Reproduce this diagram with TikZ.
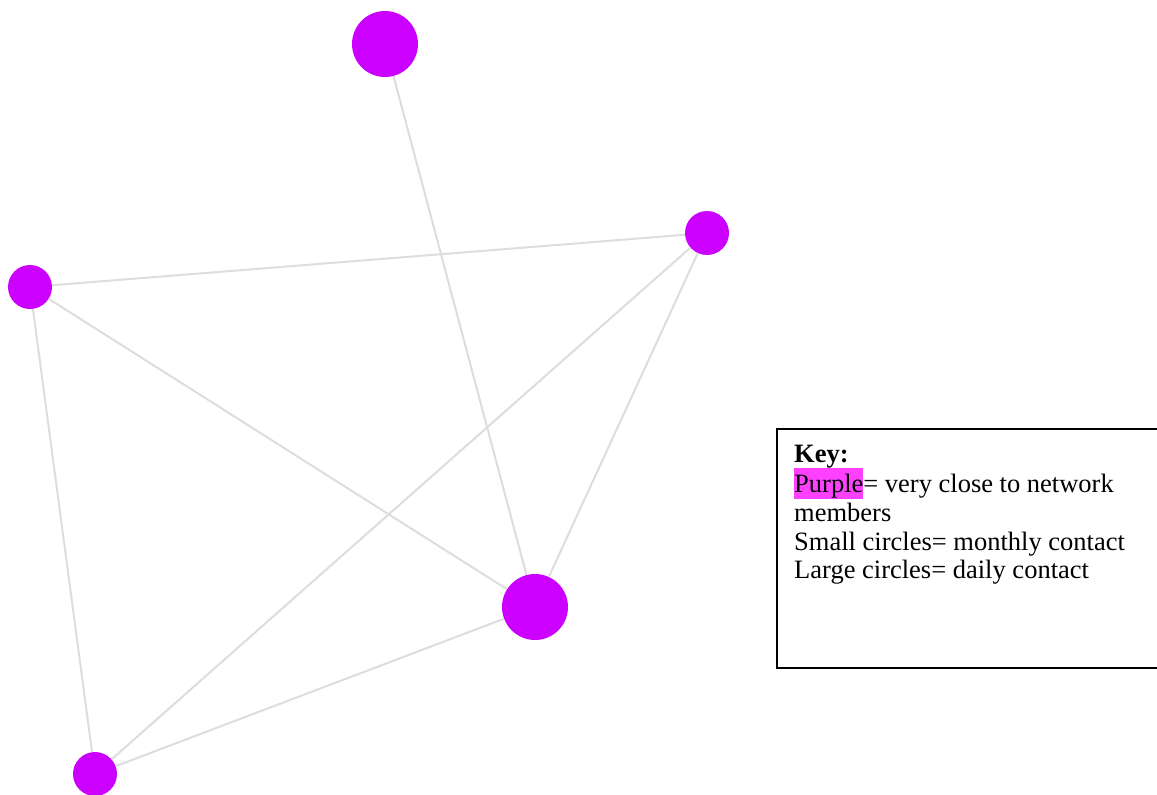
\documentclass[tikz,border=0pt]{standalone}
\usepackage{fontspec}
\setmainfont{Liberation Serif}
\definecolor{nodepurple}{HTML}{CC00FF}
\definecolor{edgegray}{HTML}{DDDDDD}
\definecolor{hlmagenta}{HTML}{FF40FF}
\begin{document}
\begin{tikzpicture}[x=1pt,y=-1pt,
  bignode/.style={circle,fill=nodepurple,inner sep=0pt,minimum size=66pt},
  smallnode/.style={circle,fill=nodepurple,inner sep=0pt,minimum size=44pt},
  edge/.style={draw=edgegray,line width=2pt},
  keytext/.style={anchor=base west,inner sep=0pt,font=\fontsize{26.5}{28.7}\selectfont}]
\useasboundingbox (0,0) rectangle (1157,795);
\node[bignode] (top) at (385,44) {};
\node[bignode] (mid) at (535,607) {};
\node[smallnode] (left) at (30,287) {};
\node[smallnode] (right) at (707,233) {};
\node[smallnode] (bl) at (95,774) {};
\draw[edge] (top) -- (mid);
\draw[edge] (left) -- (right);
\draw[edge] (left) -- (mid);
\draw[edge] (left) -- (bl);
\draw[edge] (right) -- (bl);
\draw[edge] (right) -- (mid);
\draw[edge] (mid) -- (bl);
\node[draw=black,line width=2pt,inner sep=0pt,anchor=north west,minimum width=381pt,minimum height=239pt] (keybox) at (775.5,427.5) {};
\node[keytext] (k1) at (794,462) {\textbf{Key:}};
\node[keytext] (k2) at (794,492) {{\setlength{\fboxsep}{0pt}\colorbox{hlmagenta}{\rule[-7pt]{0pt}{31pt}Purple}}= very close to network};
\node[keytext] (k3) at (794,521) {members};
\node[keytext] (k4) at (794,550) {Small circles= monthly contact};
\node[keytext] (k5) at (794,578) {Large circles= daily contact};
\end{tikzpicture}
\end{document}
